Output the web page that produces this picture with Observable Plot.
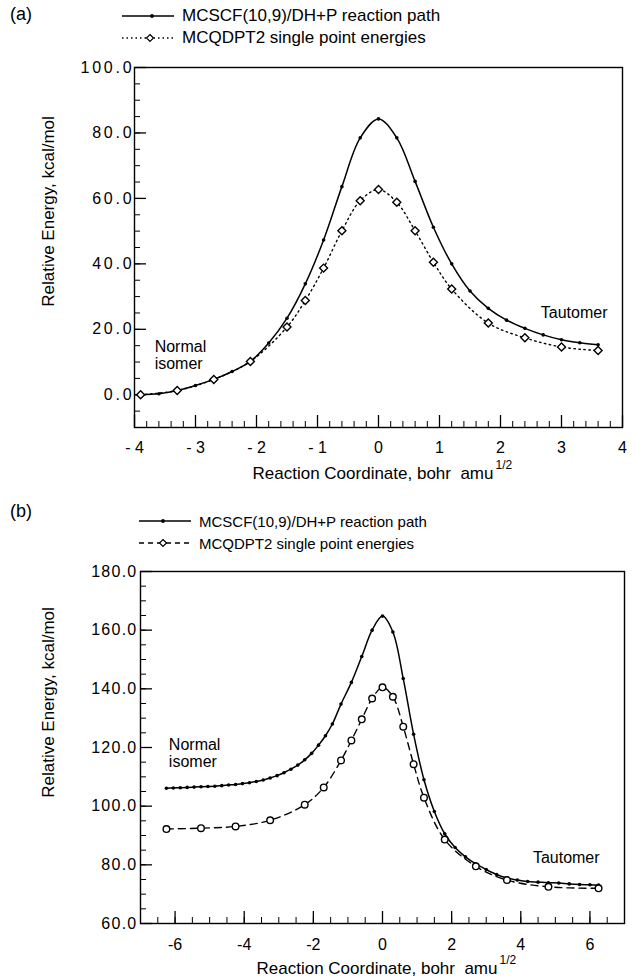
<!DOCTYPE html>
<html><head><meta charset="utf-8">
<script src="https://cdn.jsdelivr.net/npm/d3@7"></script>
<script src="https://cdn.jsdelivr.net/npm/@observablehq/plot@0.6"></script>
<style>
body{margin:0;background:#fff;font-family:"Liberation Sans",Arial,Helvetica,sans-serif;}
#wrap{position:relative;width:643px;height:980px;overflow:hidden;background:#fff;}
.abs{position:absolute;}
.tag{position:absolute;font-size:18px;line-height:18px;color:#000;}
.leg{position:absolute;height:20px;display:flex;align-items:center;color:#000;white-space:nowrap;}
.leg svg{margin-right:8px;}
.pa g[aria-label="y-axis tick label"] text{letter-spacing:2.8px;}
.pb g[aria-label="y-axis tick label"] text{letter-spacing:1.25px;}
</style></head><body><div id="wrap"></div>
<script>
// ---------- Panel (a) data ----------
const aPathX = [-3.9,-3.6,-3.3,-3.0,-2.7,-2.4,-2.1,-1.8,-1.5,-1.2,-0.9,-0.6,-0.3,0,0.3,0.6,0.9,1.2,1.5,1.8,2.1,2.4,2.7,3.0,3.3,3.6];
const aPathE = [0,0.3,1.3,2.85,4.7,7.1,10.2,15.8,23.4,33.9,47.3,63.6,78.5,84.3,78.5,65.2,51.2,40.0,31.7,26.4,22.8,20.3,18.3,16.8,15.9,15.3];
const aPt2X = [-3.9,-3.3,-2.7,-2.1,-1.5,-1.2,-0.9,-0.6,-0.3,0,0.3,0.6,0.9,1.2,1.8,2.4,3.0,3.6];
const aPt2E = [0,1.3,4.7,10.2,20.7,28.8,38.7,50.1,59.3,62.7,58.8,50.1,40.5,32.3,21.9,17.4,14.6,13.5];
const aXTicks = [-4,-3,-2,-1,0,1,2,3,4];
const aYTicks = [0,20,40,60,80,100];
const aNoteX = [-3.67, 2.66];
const aNoteY = [12.1, 25.0];
const aNoteT = ["Normal\nisomer", "Tautomer"];

// ---------- Panel (b) data ----------
const bPathX = [-6.25,-6.05,-5.85,-5.65,-5.45,-5.25,-5.05,-4.85,-4.65,-4.45,-4.25,-4.05,-3.85,-3.65,-3.45,-3.25,-3.05,-2.85,-2.65,-2.45,-2.25,-2.05,-1.85,-1.65,-1.45,-1.2,-0.9,-0.6,-0.3,0,0.3,0.6,0.9,1.2,1.5,1.8,2.1,2.4,2.7,3.0,3.3,3.6,3.9,4.2,4.5,4.8,5.1,5.4,5.7,6.0,6.25];
const bPathE = [106.1,106.2,106.3,106.4,106.5,106.6,106.7,106.8,107.0,107.2,107.4,107.7,108.0,108.4,108.9,109.6,110.4,111.4,112.6,114.0,115.8,118.0,120.8,124.0,128.0,134.8,142.2,151.0,160.0,164.8,159.4,143.5,124.5,109.0,98.2,90.6,85.9,82.7,80.3,78.4,76.7,75.5,74.8,74.3,74.1,73.9,73.8,73.5,73.3,73.2,73.1];
const bPt2X = [-6.25,-5.25,-4.25,-3.25,-2.25,-1.7,-1.2,-0.9,-0.6,-0.3,0,0.3,0.6,0.9,1.2,1.8,2.7,3.6,4.8,6.25];
const bPt2E = [92.2,92.5,93.1,95.2,100.5,106.4,115.6,122.4,129.6,136.7,140.5,137.3,127.1,114.3,102.9,88.6,79.5,74.8,72.5,72.0];
const bXTicks = [-6,-4,-2,0,2,4,6];
const bYTicks = [60,80,100,120,140,160,180];
const bNoteX = [-6.18, 4.35];
const bNoteY = [118.1, 82.4];
const bNoteT = ["Normal\nisomer", "Tautomer"];

const legendPath = "MCSCF(10,9)/DH+P reaction path";
const legendPt2 = "MCQDPT2 single point energies";
const yTitle = "Relative Energy, kcal/mol";
const xTitle = "Reaction Coordinate, bohr  amu";
const xTitleSup = "1/2";

const FONT = "'Liberation Sans', Arial, Helvetica, sans-serif";

function panel(c) {
  const iw = c.width - c.ml - c.mr;
  const ih = c.height - c.mt - c.mb;
  const path = c.pathX.map((x, i) => ({x, e: c.pathE[i]}));
  const pt2 = c.pt2X.map((x, i) => ({x, e: c.pt2E[i]}));
  const notes = c.noteX.map((x, i) => ({x, y: c.noteY[i], t: c.noteT[i]}));
  const svg = Plot.plot({
    className: c.cls,
    width: c.width, height: c.height,
    marginTop: c.mt, marginBottom: c.mb, marginLeft: c.ml, marginRight: c.mr,
    style: {fontFamily: FONT, background: "transparent", color: "#000", overflow: "visible"},
    x: {domain: c.xDomain},
    y: {domain: c.yDomain},
    marks: [
      Plot.tickY(c.yMinor, {y: d => d, insetRight: iw - 6, stroke: "#000", strokeWidth: 1}),
      Plot.tickY(c.yTicks, {y: d => d, insetRight: iw - 12, stroke: "#000", strokeWidth: 1.3}),
      Plot.tickX(c.xMinor, {x: d => d, insetTop: ih - 6, stroke: "#000", strokeWidth: 1}),
      Plot.tickX(c.xTicks, {x: d => d, insetTop: ih - 12, stroke: "#000", strokeWidth: 1.3}),
      Plot.frame({stroke: "#000", strokeWidth: 1.4}),
      Plot.axisY({ticks: c.yTicks, tickSize: 0, tickPadding: c.yPad, tickFormat: d => d.toFixed(1), fontSize: 16, label: null}),
      Plot.axisX({ticks: c.xTicks, tickSize: 0, tickPadding: c.xPad, tickFormat: c.xFormat, fontSize: 16, label: null}),
      Plot.line(path, {x: "x", y: "e", curve: "catmull-rom", stroke: "#000", strokeWidth: 1.5}),
      Plot.line(pt2, {x: "x", y: "e", curve: "catmull-rom", stroke: "#000", strokeWidth: 1.4, strokeDasharray: c.dash}),
      Plot.dot(path, {x: "x", y: "e", r: 1.8, fill: "#000", stroke: null}),
      Plot.dot(pt2, {x: "x", y: "e", r: c.symR, symbol: c.symbol, fill: "#fff", stroke: "#000", strokeWidth: 1.4}),
      Plot.text(notes, {x: "x", y: "y", text: "t", textAnchor: "start", fontSize: 16, lineHeight: 1.06}),
      Plot.text([yTitle], {text: d => d, frameAnchor: "left", textAnchor: "middle", dx: c.yTitleDx, dy: c.yTitleDy, rotate: -90, fontSize: 17, ariaLabel: "y-title"}),
      Plot.text([xTitle], {text: d => d, frameAnchor: "bottom", textAnchor: "end", dx: c.xTitleDx, dy: c.xTitleDy, fontSize: 17, ariaLabel: "x-title"}),
      Plot.text([xTitleSup], {text: d => d, frameAnchor: "bottom", textAnchor: "start", dx: c.xTitleDx + 2, dy: c.xTitleDy - 10, fontSize: 12})
    ]
  });
  d3.select(svg).selectAll('g[aria-label="y-title"] text').attr("textLength", c.yTitleLen).attr("lengthAdjust", "spacing");
  d3.select(svg).selectAll('g[aria-label="x-title"] text').attr("textLength", c.xTitleLen).attr("lengthAdjust", "spacing");
  return svg;
}

const wrap = document.getElementById("wrap");

const plotA = panel({
  cls: "pa", width: 643, height: 490, mt: 67, mb: 63, ml: 134, mr: 21,
  xDomain: [-4, 4], yDomain: [-10, 100],
  pathX: aPathX, pathE: aPathE, pt2X: aPt2X, pt2E: aPt2E,
  xTicks: aXTicks, yTicks: aYTicks,
  xMinor: d3.range(-4, 4.001, 0.2), yMinor: d3.range(-10, 100.001, 5),
  xFormat: d => d < 0 ? "- " + Math.abs(d) : String(d),
  xPad: 14, yPad: 0,
  dash: "1.5,3.5", symbol: "diamond2", symR: 3.6,
  noteX: aNoteX, noteY: aNoteY, noteT: aNoteT,
  yTitleDx: -86, yTitleDy: -36, yTitleLen: 214,
  xTitleDx: 115, xTitleDy: 51, xTitleLen: 253
});
plotA.classList.add("abs");
plotA.style.left = "0px"; plotA.style.top = "0px";
wrap.appendChild(plotA);

const plotB = panel({
  cls: "pb", width: 643, height: 490, mt: 81, mb: 57, ml: 140, mr: 19,
  xDomain: [-7, 7], yDomain: [60, 180],
  pathX: bPathX, pathE: bPathE, pt2X: bPt2X, pt2E: bPt2E,
  xTicks: bXTicks, yTicks: bYTicks,
  xMinor: d3.range(-7, 7.001, 0.5), yMinor: d3.range(60, 180.001, 5),
  xFormat: d => d < 0 ? "-" + Math.abs(d) : String(d),
  xPad: 15, yPad: 3,
  dash: "7,5", symbol: "circle", symR: 3.3,
  noteX: bNoteX, noteY: bNoteY, noteT: bNoteT,
  yTitleDx: -92, yTitleDy: -45, yTitleLen: 212,
  xTitleDx: 115, xTitleDy: 50, xTitleLen: 254
});
plotB.classList.add("abs");
plotB.style.left = "0px"; plotB.style.top = "490px";
wrap.appendChild(plotB);

// ---------- Legends (HTML) ----------
function swatch(dash, marker, mx) {
  const m = marker === "dot"
    ? `<circle cx="${mx}" cy="7" r="1.9" fill="#000"/>`
    : `<path d="M${mx} 3.5 L${mx + 3.5} 7 L${mx} 10.5 L${mx - 3.5} 7 Z" fill="#fff" stroke="#000" stroke-width="1.2"/>`;
  return `<svg width="52" height="14"><line x1="0" y1="7" x2="52" y2="7" stroke="#000" stroke-width="1.4" ${dash ? `stroke-dasharray="${dash}"` : ""}/>${m}</svg>`;
}
function addTag(txt, left, cy) {
  const d = document.createElement("div");
  d.className = "tag"; d.textContent = txt;
  d.style.left = left + "px"; d.style.top = (cy - 9) + "px";
  wrap.appendChild(d);
}
function addLeg(html, txt, left, cy, fs) {
  const d = document.createElement("div");
  d.className = "leg";
  d.style.fontSize = fs + "px";
  d.innerHTML = html + `<span>${txt}</span>`;
  d.style.left = left + "px"; d.style.top = (cy - 10) + "px";
  wrap.appendChild(d);
}
addTag("(a)", 10, 14);
addLeg(swatch(null, "dot", 30), legendPath, 122, 16, 17);
addLeg(swatch("1.5,3", "diamond", 28), legendPt2, 122, 38, 17);
addTag("(b)", 10, 511);
addLeg(swatch(null, "dot", 24), legendPath, 139, 521, 15);
addLeg(swatch("5,4", "diamond", 24), legendPt2, 139, 543, 15);
</script>
</body></html>
